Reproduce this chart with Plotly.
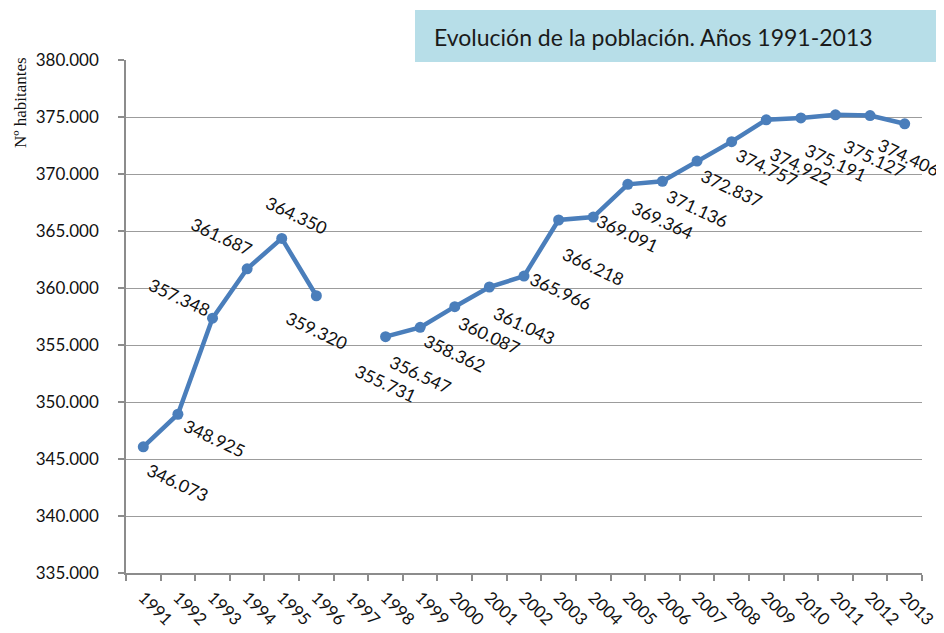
import plotly.graph_objects as go

years = [str(y) for y in range(1991, 2014)]
population = [346073, 348925, 357348, 361687, 364350, 359320, None,
              355731, 356547, 358362, 360087, 361043, 365966, 366218,
              369091, 369364, 371136, 372837, 374757, 374922, 375191,
              375127, 374406]
y_ticks = [335000, 340000, 345000, 350000, 355000, 360000, 365000,
           370000, 375000, 380000]
y_tick_labels = ["335.000", "340.000", "345.000", "350.000", "355.000",
                 "360.000", "365.000", "370.000", "375.000", "380.000"]

title_text = "Evolución de la población. Años 1991-2013"
y_title = "Nº habitantes"

# label pixel offsets (dx right, dy down) relative to each point
label_offsets = [(34, 36), (37, 24), (-33, -21), (-26, -32), (15, -23), (0, 35), None,
                 (0, 47), (0, 47), (0, 47), (0, 48), (0, 49), (2, 72), (0, 49),
                 (0, 49), (0, 39), (0, 47), (0, 47), (0, 48), (0, 49), (0, 48),
                 (4, 43), (4, 34)]

def fmt(v):
    return f"{v:,}".replace(",", ".")

line_color = "#4a7ebb"
font_family = "Lato, 'Open Sans', sans-serif"

# the page body has an 8px margin; the figure is sized to fill the rest
OFF = 8
W, H = 944 - OFF, 633 - OFF
L, R, T, B = 126 - OFF, 22, 60 - OFF, 60
PW, PH = W - L - R, H - T - B

def px(x):
    return (x - OFF - L) / PW

def py(y):
    return (H - B - (y - OFF)) / PH

fig = go.Figure()
fig.add_trace(go.Scatter(
    x=years, y=population, mode="lines+markers",
    line=dict(color=line_color, width=4.5),
    marker=dict(color=line_color, size=11),
    connectgaps=False, hoverinfo="x+y", showlegend=False,
))

annotations = []
for i, (v, off) in enumerate(zip(population, label_offsets)):
    if v is None:
        continue
    dx, dy = off
    annotations.append(dict(
        x=i, y=v, xref="x", yref="y", text=fmt(v), showarrow=False,
        textangle=25, xshift=dx, yshift=-dy,
        font=dict(family=font_family, size=17.5, color="#111111"),
    ))

annotations.append(dict(
    x=px(20), y=py(103), xref="paper", yref="paper", text=y_title, showarrow=False,
    xanchor="center", yanchor="middle", textangle=-90,
    font=dict(family="'Liberation Serif', 'Times New Roman', serif", size=17, color="#111111"),
))

annotations.append(dict(
    x=px(432), y=py(37), xref="paper", yref="paper",
    xanchor="left", yanchor="middle", text=title_text, showarrow=False,
    font=dict(family=font_family, size=23, color="#1a1a1a"),
))

shapes = [dict(
    type="rect", xref="paper", yref="paper",
    x0=px(415), x1=px(950), y0=py(62), y1=py(10),
    fillcolor="#b7dee8", line=dict(width=0), layer="above",
)]

fig.update_layout(
    width=W, height=H,
    margin=dict(l=L, r=R, t=T, b=B, autoexpand=False),
    paper_bgcolor="white", plot_bgcolor="white",
    annotations=annotations, shapes=shapes,
    font=dict(family=font_family, size=17, color="#111111"),
    xaxis=dict(
        type="category", range=[-0.5, 22.5], tickson="boundaries",
        ticks="outside", ticklen=6, tickcolor="#8c8c8c", tickwidth=1.5,
        tickangle=45, showgrid=False, showline=True, linecolor="#8c8c8c",
        linewidth=1.5, ticklabelstandoff=6, fixedrange=True, automargin=False,
    ),
    yaxis=dict(
        range=[335000, 380000], tickvals=y_ticks, ticktext=y_tick_labels,
        ticks="outside", ticklen=6, tickcolor="#8c8c8c", tickwidth=1.5,
        showgrid=True, gridcolor="#9c9c9c", gridwidth=1.2,
        showline=True, linecolor="#8c8c8c", linewidth=1.5,
        ticklabelstandoff=16, zeroline=False, fixedrange=True, automargin=False,
    ),
)

fig.write_html("out.html")
